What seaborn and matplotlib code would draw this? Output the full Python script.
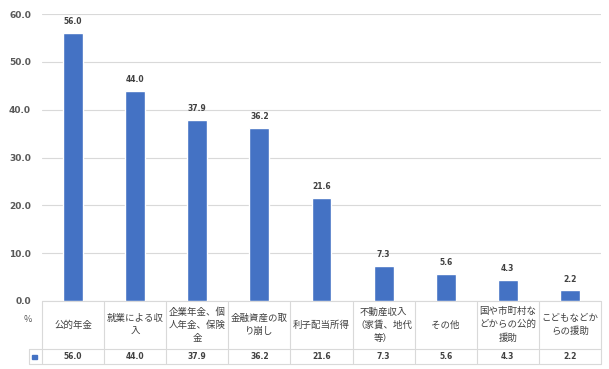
import matplotlib
matplotlib.use("Agg")
import matplotlib.pyplot as plt
import matplotlib.transforms as mtransforms
import pandas as pd
import seaborn as sns

# --- data ---
categories = [
    "公的年金",
    "就業による収\n入",
    "企業年金、個\n人年金、保険\n金",
    "金融資産の取\nり崩し",
    "利子配当所得",
    "不動産収入\n（家賃、地代\n等）",
    "その他",
    "国や市町村な\nどからの公的\n援助",
    "こどもなどか\nらの援助",
]
values = [56.0, 44.0, 37.9, 36.2, 21.6, 7.3, 5.6, 4.3, 2.2]
yticks = [0, 10, 20, 30, 40, 50, 60]

BAR = "#4472C4"
GRID = "#D9D9D9"
TXT = "#595959"

sns.set_theme(style="white")
plt.rcParams["font.family"] = ["Noto Sans CJK JP", "DejaVu Sans"]

df = pd.DataFrame({"cat": range(len(values)), "val": values})

W, H = 609, 369
fig = plt.figure(figsize=(W / 100, H / 100), dpi=100)
left, right, top, bottom = 42, 601, 14, 301
ax = fig.add_axes([left / W, 1 - bottom / H, (right - left) / W, (bottom - top) / H])

sns.barplot(data=df, x="cat", y="val", color=BAR, width=0.32, ax=ax,
            saturation=1, zorder=3)

ax.set_xlim(-0.5, len(values) - 0.5)
ax.set_ylim(0, 60)
ax.set_yticks(yticks)
ax.set_yticklabels([f"{t:.1f}" for t in yticks], fontsize=6.5, color=TXT,
                   fontweight="bold", family="DejaVu Sans")
ax.tick_params(axis="y", length=0, pad=8)
ax.set_xticks([])
ax.set_xlabel("")
ax.set_ylabel("")
for s in ax.spines.values():
    s.set_visible(False)
ax.yaxis.grid(True, color=GRID, linewidth=0.8, zorder=0)

for i, v in enumerate(values):
    ax.annotate(f"{v:.1f}", (i, v), xytext=(0, 5), textcoords="offset points",
                ha="center", va="bottom", fontsize=5.5, fontweight="bold",
                color="#404040", family="DejaVu Sans")

# --- data table below the axis ---
ph = bottom - top
hdr_b = -(349 - bottom) / ph
row_b = -(364 - bottom) / ph
row_mid = (hdr_b + row_b) / 2
tr = mtransforms.blended_transform_factory(ax.transData, ax.transAxes)
tr_fig = mtransforms.blended_transform_factory(fig.transFigure, ax.transAxes)
n = len(values)
lk = dict(color=GRID, linewidth=0.8, clip_on=False)

for x in [k - 0.5 for k in range(n + 1)]:
    ax.plot([x, x], [0, row_b], transform=tr, **lk)
ax.plot([-0.5, n - 0.5], [0, 0], transform=tr, **lk)
for y in (hdr_b, row_b):
    ax.plot([29 / W, right / W], [y, y], transform=tr_fig, **lk)
ax.plot([29 / W, 29 / W], [hdr_b, row_b], transform=tr_fig, **lk)

for i, c in enumerate(categories):
    ax.text(i, hdr_b / 2, c, transform=tr, ha="center", va="center",
            fontsize=6.8, color="#404040", linespacing=1.5)
    ax.text(i, row_mid, f"{values[i]:.1f}", transform=tr, ha="center",
            va="center", fontsize=5.5, fontweight="bold", color="#404040",
            family="DejaVu Sans")

fig.text(28 / W, 1 - 320 / H, "%", ha="center", va="center", fontsize=6.5,
         color=TXT)
fig.patches.append(plt.Rectangle((32 / W, 1 - 359 / H), 4.5 / W, 4.5 / H,
                                 color=BAR, transform=fig.transFigure))

fig.savefig("out.png", dpi=100)
